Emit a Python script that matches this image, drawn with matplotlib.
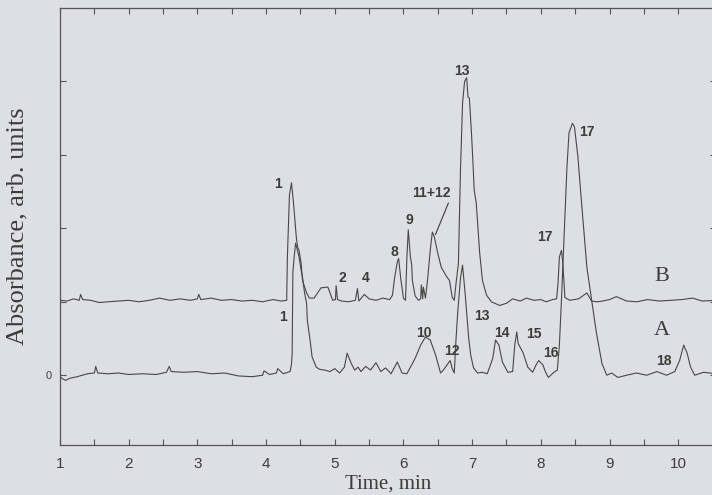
import matplotlib
matplotlib.use('Agg')
import matplotlib.pyplot as plt
from matplotlib.ticker import MultipleLocator

# trace A (lower chromatogram), time in min, absorbance in arb. units
time_a = [1.00, 1.04, 1.08, 1.15, 1.25, 1.40, 1.50, 1.52, 1.55, 1.70,
          1.85, 2.00, 2.20, 2.40, 2.55, 2.59, 2.62, 2.80, 3.00, 3.20,
          3.40, 3.60, 3.80, 3.95, 3.97, 4.05, 4.15, 4.17, 4.25, 4.35,
          4.37, 4.38, 4.39, 4.41, 4.43, 4.48, 4.51, 4.53, 4.56, 4.59,
          4.60, 4.64, 4.67, 4.73, 4.78, 4.85, 4.93, 5.00, 5.07, 5.14,
          5.18, 5.24, 5.29, 5.34, 5.38, 5.45, 5.52, 5.60, 5.67, 5.74,
          5.82, 5.91, 5.98, 6.05, 6.17, 6.25, 6.32, 6.39, 6.47, 6.54,
          6.58, 6.65, 6.68, 6.71, 6.74, 6.76, 6.79, 6.83, 6.86, 6.90,
          6.95, 6.98, 7.02, 7.08, 7.15, 7.22, 7.30, 7.34, 7.39, 7.44,
          7.52, 7.59, 7.62, 7.65, 7.67, 7.74, 7.81, 7.88, 7.93, 7.97,
          8.03, 8.07, 8.11, 8.19, 8.24, 8.27, 8.30, 8.32, 8.35, 8.38,
          8.41, 8.46, 8.49, 8.54, 8.59, 8.67, 8.74, 8.81, 8.89, 8.96,
          9.03, 9.12, 9.25, 9.39, 9.54, 9.69, 9.83, 9.95, 10.02, 10.08,
          10.13, 10.18, 10.24, 10.37, 10.55]
abs_a = [-0.02, -0.05, -0.07, -0.04, -0.02, 0.02, 0.03, 0.12, 0.03, 0.02,
         0.03, 0.01, 0.02, 0.01, 0.04, 0.12, 0.05, 0.04, 0.05, 0.02,
         0.03, -0.01, -0.02, 0.00, 0.06, 0.01, 0.03, 0.09, 0.02, 0.05,
         0.15, 0.30, 1.40, 1.62, 1.80, 1.61, 1.43, 1.34, 1.12, 0.98,
         0.75, 0.48, 0.25, 0.11, 0.08, 0.07, 0.05, 0.09, 0.03, 0.11,
         0.30, 0.16, 0.07, 0.11, 0.05, 0.12, 0.07, 0.17, 0.05, 0.10,
         0.02, 0.18, 0.03, 0.02, 0.23, 0.41, 0.52, 0.48, 0.27, 0.03,
         0.07, 0.16, 0.20, 0.09, 0.03, 0.41, 0.86, 1.32, 1.50, 1.09,
         0.50, 0.27, 0.10, 0.03, 0.04, 0.02, 0.23, 0.48, 0.41, 0.18,
         0.04, 0.05, 0.41, 0.59, 0.43, 0.31, 0.11, 0.04, 0.14, 0.20,
         0.14, 0.04, -0.03, 0.04, 0.07, 0.41, 1.02, 1.47, 2.15, 2.83,
         3.30, 3.43, 3.38, 2.97, 2.38, 1.47, 1.02, 0.57, 0.16, 0.00,
         0.03, -0.03, 0.00, 0.03, 0.00, 0.05, 0.00, 0.05, 0.20, 0.41,
         0.30, 0.11, 0.00, 0.04, 0.02]

# trace B (upper chromatogram)
time_b = [1.00, 1.10, 1.20, 1.28, 1.30, 1.33, 1.45, 1.57, 1.70, 1.85,
          2.00, 2.15, 2.30, 2.45, 2.60, 2.75, 2.90, 3.00, 3.02, 3.05,
          3.20, 3.35, 3.50, 3.65, 3.80, 3.95, 4.10, 4.22, 4.30, 4.31,
          4.34, 4.37, 4.40, 4.44, 4.46, 4.48, 4.51, 4.53, 4.59, 4.63,
          4.70, 4.80, 4.90, 4.97, 5.01, 5.02, 5.04, 5.10, 5.20, 5.30,
          5.33, 5.35, 5.43, 5.50, 5.60, 5.70, 5.80, 5.84, 5.87, 5.91,
          5.93, 5.96, 6.00, 6.03, 6.05, 6.07, 6.10, 6.12, 6.13, 6.17,
          6.22, 6.25, 6.26, 6.28, 6.29, 6.32, 6.35, 6.39, 6.42, 6.45,
          6.50, 6.55, 6.63, 6.67, 6.71, 6.74, 6.77, 6.80, 6.83, 6.86,
          6.89, 6.92, 6.94, 6.96, 6.99, 7.01, 7.03, 7.06, 7.11, 7.15,
          7.21, 7.28, 7.40, 7.50, 7.59, 7.70, 7.79, 7.90, 8.00, 8.08,
          8.17, 8.23, 8.25, 8.27, 8.30, 8.32, 8.35, 8.42, 8.55, 8.67,
          8.74, 8.82, 8.90, 9.00, 9.10, 9.25, 9.40, 9.55, 9.73, 9.90,
          10.05, 10.21, 10.35, 10.55]
abs_b = [1.02, 1.01, 1.04, 1.02, 1.10, 1.03, 1.02, 0.99, 1.00, 1.01,
         1.02, 1.00, 1.02, 1.05, 1.02, 1.04, 1.02, 1.04, 1.10, 1.03,
         1.05, 1.02, 1.03, 1.01, 1.02, 1.00, 1.03, 1.01, 1.02, 1.60,
         2.45, 2.62, 2.34, 1.88, 1.74, 1.70, 1.53, 1.29, 1.12, 1.05,
         1.05, 1.19, 1.20, 1.02, 1.03, 1.22, 1.03, 1.01, 1.00, 1.02,
         1.18, 1.01, 1.10, 1.04, 1.02, 1.05, 1.03, 1.09, 1.32, 1.54,
         1.59, 1.32, 1.05, 1.02, 1.60, 1.98, 1.62, 1.50, 1.29, 1.08,
         1.02, 1.04, 1.23, 1.04, 1.20, 1.05, 1.29, 1.70, 1.95, 1.88,
         1.66, 1.47, 1.34, 1.29, 1.06, 1.02, 1.29, 1.52, 2.79, 3.70,
         4.00, 4.05, 3.79, 3.77, 3.30, 2.93, 2.52, 2.34, 1.66, 1.29,
         1.09, 1.00, 0.95, 0.98, 1.04, 1.01, 1.05, 1.02, 1.03, 1.00,
         1.03, 1.04, 1.25, 1.61, 1.70, 1.53, 1.06, 1.02, 1.04, 1.12,
         1.01, 1.00, 1.01, 1.03, 1.07, 1.01, 1.00, 1.03, 1.01, 1.02,
         1.03, 1.05, 1.01, 1.02]

# peak numbers: (text, time, absorbance)
peak_labels = [('1', 4.18, 2.60), ('1', 4.24, 0.79), ('2', 5.11, 1.32),
               ('4', 5.45, 1.32), ('8', 5.87, 1.68), ('9', 6.09, 2.11),
               ('11+12', 6.41, 2.48), ('13', 6.85, 4.14), ('17', 8.67, 3.31),
               ('17', 8.06, 1.88), ('10', 6.29, 0.57), ('12', 6.70, 0.33),
               ('13', 7.14, 0.80), ('14', 7.44, 0.57), ('15', 7.90, 0.56),
               ('16', 8.14, 0.30), ('18', 9.79, 0.19)]

bg = '#dcdfe3'
ink = '#3c3c3c'

fig = plt.figure(figsize=(7.12, 4.95), dpi=100, facecolor=bg)
ax = fig.add_axes([60 / 712, 50 / 495, 656 / 712, 437 / 495], facecolor=bg)

ax.plot(time_b, abs_b, color='#474747', linewidth=0.8)
ax.plot(time_a, abs_a, color='#474747', linewidth=0.8)

for text, x, y in peak_labels:
    ax.text(x, y, text, ha='center', va='center', fontsize=10,
            fontweight='bold', color=ink, family='Liberation Sans')

# leader line for 11+12
ax.annotate('', xy=(6.45, 1.88), xytext=(6.67, 2.38),
            arrowprops=dict(arrowstyle='-', color=ink, lw=0.8))

ax.text(9.76, 1.34, 'B', ha='center', va='center', fontsize=16,
        color=ink, family='Liberation Serif')
ax.text(9.76, 0.61, 'A', ha='center', va='center', fontsize=16,
        color=ink, family='Liberation Serif')

ax.set_xlim(1.0, 10.55)
ax.set_ylim(-0.95, 5.0)
ax.xaxis.set_major_locator(MultipleLocator(1))
ax.xaxis.set_minor_locator(MultipleLocator(0.5))
ax.set_yticks([0, 1, 2, 3, 4])
ax.set_yticklabels(['0', '', '', '', ''])

ax.tick_params(axis='both', which='both', direction='in', top=True, right=True,
               length=4.5, width=0.8, color='#555555')
ax.tick_params(axis='x', labelsize=11, labelcolor=ink, pad=9)
ax.tick_params(axis='y', labelsize=8, labelcolor=ink, pad=6)
for lab in ax.get_xticklabels() + ax.get_yticklabels():
    lab.set_family('Liberation Sans')

for sp in ax.spines.values():
    sp.set_color('#555555')
    sp.set_linewidth(0.9)

ax.set_xlabel('Time, min', fontsize=15, family='Liberation Serif', color=ink, labelpad=2)
ax.set_ylabel('Absorbance, arb. units', fontsize=19, family='Liberation Serif',
              color=ink, labelpad=12)

plt.savefig('out.png', dpi=100, facecolor=bg)
